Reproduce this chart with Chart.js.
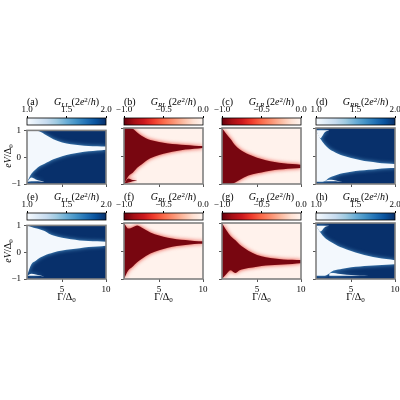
<!DOCTYPE html>
<html><head><meta charset="utf-8">
<script src="https://cdn.jsdelivr.net/npm/chart.js@4/dist/chart.umd.min.js"></script>
<style>
html,body{margin:0;padding:0;background:#fff;}
#wrap{position:relative;width:400px;height:400px;overflow:hidden;font-family:'Liberation Serif',serif;}
#wrap canvas{position:absolute;}
.t{position:absolute;white-space:nowrap;font-size:10px;line-height:10px;color:#000;}
.t sub{font-size:70%;vertical-align:-0.3em;line-height:0;}
.t sup{font-size:70%;vertical-align:0.45em;line-height:0;}
.rot{transform:translate(-50%,-50%) rotate(-90deg);}
.ctr{transform:translate(-50%,-50%);}
</style></head><body><div id="wrap"></div>
<script>
// ---------------- data ----------------
const gamma = [1, 1.5, 2, 2.5, 3, 3.5, 4, 5, 6, 7, 8, 9, 10];

// (a) G_LL : light region (value ~1) inside a dark background (~2)
const aLo = [-0.93, -0.62, -0.45, -0.32, -0.24, -0.16, -0.08, 0.04, 0.12, 0.18, 0.22, 0.25, 0.28];
const aHi = [1, 1, 1, 0.95, 0.86, 0.76, 0.67, 0.55, 0.48, 0.45, 0.42, 0.41, 0.40];
const aBandGamma = [1, 1.5, 2, 2.5, 3];
const aBandLo = [-0.93, -0.9, -0.9, -0.91, -0.92];
const aBandHi = [-0.93, -0.76, -0.83, -0.88, -0.92];

// (b) G_RL : dark region (~-1) inside a light background (~0)
const bLo = [-1, -0.72, -0.6, -0.42, -0.3, -0.18, -0.08, 0.04, 0.12, 0.18, 0.23, 0.26, 0.29];
const bHi = [1, 1, 0.97, 0.84, 0.72, 0.63, 0.57, 0.50, 0.45, 0.42, 0.39, 0.37, 0.36];
const bBandGamma = [1, 1.5, 2, 2.5];
const bBandLo = [-1, -0.95, -0.9, -0.88];
const bBandHi = [-1, -0.8, -0.86, -0.88];

// (c) G_LR
const cLo = [-1, -1, -1, -0.95, -0.86, -0.77, -0.7, -0.62, -0.55, -0.5, -0.47, -0.45, -0.43];
const cHi = [1, 0.79, 0.6, 0.38, 0.24, 0.14, 0.06, -0.06, -0.15, -0.21, -0.26, -0.29, -0.31];

// (d) G_RR
const dLo = [-0.92, -0.92, -0.9, -0.78, -0.71, -0.66, -0.62, -0.56, -0.52, -0.49, -0.46, -0.44, -0.43];
const dHi = [0.92, 0.62, 0.4, 0.25, 0.16, 0.08, 0.02, -0.07, -0.14, -0.2, -0.24, -0.27, -0.29];
const dWedgeGamma = [1, 1.5, 2, 2.5];
const dWedgeLo = [0.92, 0.64, 0.85, 0.92];
const dWedgeHi = [0.92, 0.92, 0.92, 0.92];
const dBandGamma = [2, 2.5, 3, 3.5, 4];
const dBandLo = [-0.9, -0.9, -0.9, -0.91, -0.92];
const dBandHi = [-0.9, -0.85, -0.86, -0.89, -0.92];

// (e) G_LL
const eLo = [-0.88, -0.45, -0.32, -0.2, -0.12, -0.06, -0.01, 0.06, 0.11, 0.15, 0.19, 0.21, 0.24];
const eHi = [1, 0.94, 0.89, 0.85, 0.79, 0.69, 0.62, 0.54, 0.48, 0.44, 0.42, 0.41, 0.39];
const eBandGamma = [1, 1.5, 2, 2.5, 3];
const eBandLo = [-0.88, -0.88, -0.88, -0.89, -0.9];
const eBandHi = [-0.88, -0.8, -0.83, -0.87, -0.9];

// (f) G_RL
const fLo = [-1, -0.69, -0.55, -0.4, -0.29, -0.18, -0.09, 0.03, 0.12, 0.18, 0.21, 0.25, 0.26];
const fHi = [1, 0.8, 0.85, 0.91, 0.84, 0.75, 0.66, 0.55, 0.47, 0.42, 0.39, 0.36, 0.35];

// (g) G_LR
const gLo = [-1, -0.82, -0.69, -0.79, -0.69, -0.64, -0.61, -0.56, -0.52, -0.5, -0.48, -0.46, -0.44];
const gHi = [1, 0.74, 0.53, 0.39, 0.23, 0.12, 0.01, -0.14, -0.22, -0.27, -0.3, -0.31, -0.32];

// (h) G_RR
const hLo = [-0.88, -0.88, -0.88, -0.8, -0.7, -0.66, -0.63, -0.58, -0.55, -0.53, -0.51, -0.49, -0.47];
const hHi = [0.9, 0.66, 0.47, 0.36, 0.27, 0.18, 0.12, 0.0, -0.1, -0.18, -0.24, -0.29, -0.33];
const hWedgeGamma = [1, 1.5, 2, 2.5];
const hWedgeLo = [0.9, 0.7, 0.85, 0.9];
const hWedgeHi = [0.9, 0.9, 0.9, 0.9];
const hBandGamma = [2.5, 3, 3.5, 4, 5, 6, 7];
const hBandLo = [-0.88, -0.88, -0.88, -0.88, -0.88, -0.88, -0.88];
const hBandHi = [-0.8, -0.79, -0.81, -0.83, -0.86, -0.875, -0.88];

// axes / colour bars
const gammaRange = [1, 10];
const gammaTicks = [5, 10];
const energyRange = [-1, 1];
const energyTicks = [-1, 0, 1];
const blueRange = [1.0, 2.0];
const blueTicks = [1.0, 1.5, 2.0];
const redRange = [-1.0, 0.0];
const redTicks = [-1.0, -0.5, 0.0];
const panelTags = ['(a)', '(b)', '(c)', '(d)', '(e)', '(f)', '(g)', '(h)'];
const panelNames = ['LL', 'RL', 'LR', 'RR', 'LL', 'RL', 'LR', 'RR'];

// ---------------- styles ----------------
const bluesStops = ['#f7fbff','#deebf7','#c6dbef','#9ecae1','#6baed6','#4292c6','#2171b5','#08519c','#08306b'];
const redsStops = ['#67000d','#a50f15','#cb181d','#ef3b2c','#fb6a4a','#fc9272','#fcbba1','#fee0d2','#fff5f0'];
const blueStyle = {bg:'#08306b', feat:'#f3f8fd', halo:'#5aa2d3', stops:bluesStops, range:blueRange, ticks:blueTicks};
const redStyle = {bg:'#fff2ec', feat:'#780610', halo:'#e5392d', stops:redsStops, range:redRange, ticks:redTicks};

const panels = [
  {style:blueStyle, bands:[[gamma,aLo,aHi],[aBandGamma,aBandLo,aBandHi]]},
  {style:redStyle,  bands:[[gamma,bLo,bHi],[bBandGamma,bBandLo,bBandHi]]},
  {style:redStyle,  bands:[[gamma,cLo,cHi]]},
  {style:blueStyle, bands:[[gamma,dLo,dHi],[dWedgeGamma,dWedgeLo,dWedgeHi],[dBandGamma,dBandLo,dBandHi]]},
  {style:blueStyle, bands:[[gamma,eLo,eHi],[eBandGamma,eBandLo,eBandHi]]},
  {style:redStyle,  bands:[[gamma,fLo,fHi]]},
  {style:redStyle,  bands:[[gamma,gLo,gHi]]},
  {style:blueStyle, bands:[[gamma,hLo,hHi],[hWedgeGamma,hWedgeLo,hWedgeHi],[hBandGamma,hBandLo,hBandHi]]}
];

// layout
const colX = [27, 124, 222, 316];
const W = 79;
const rowY = [128, 223];
const H = 56;
const cbY = [118, 213];
const cbH = 7;
const FONT = {family:"'Liberation Serif', serif", size:9};

Chart.defaults.font.family = FONT.family;
Chart.defaults.font.size = FONT.size;
Chart.defaults.color = '#000';

const wrap = document.getElementById('wrap');
function fmt(v, dec){ const s = Math.abs(v).toFixed(dec); return (v < 0 ? '\u2212' : '') + s; }
function addCanvas(l, t, w, h){
  const c = document.createElement('canvas');
  c.width = w; c.height = h;
  c.style.left = l + 'px'; c.style.top = t + 'px';
  c.style.width = w + 'px'; c.style.height = h + 'px';
  wrap.appendChild(c);
  return c;
}
function addText(html, l, t, cls){
  const d = document.createElement('div');
  d.className = 't' + (cls ? ' ' + cls : '');
  d.innerHTML = html;
  d.style.left = l + 'px'; d.style.top = t + 'px';
  wrap.appendChild(d);
  return d;
}
function framePlugin(color, width){
  return {id:'frame', afterDraw(chart){
    const a = chart.chartArea, ctx = chart.ctx;
    ctx.save(); ctx.strokeStyle = color; ctx.lineWidth = width;
    ctx.strokeRect(a.left, a.top, a.right - a.left, a.bottom - a.top);
    ctx.restore();
  }};
}
function bgPlugin(color){
  return {id:'bgfill', beforeDraw(chart){
    const a = chart.chartArea, ctx = chart.ctx;
    ctx.save(); ctx.fillStyle = color;
    ctx.fillRect(a.left, a.top, a.right - a.left, a.bottom - a.top);
    ctx.restore();
  }};
}
// soft edges: the halo copies (drawn first) are blurred, the crisp fills are drawn on top
function softPlugin(firstHalo){
  return {id:'soft',
    beforeDatasetsDraw(chart){ chart.ctx.filter = 'blur(2px)'; },
    afterDatasetDraw(chart, args){ if(args.index === firstHalo) chart.ctx.filter = 'none'; },
    afterDatasetsDraw(chart){ chart.ctx.filter = 'none'; }
  };
}

function makeHeat(p, idx){
  const col = idx % 4, row = Math.floor(idx / 4);
  const x0 = colX[col], y0 = rowY[row];
  const L = 30, R = 8, T = 6, B = 22, YW = 26, XH = 20;
  const cv = addCanvas(x0 - L, y0 - T, W + L + R, H + T + B);
  const st = p.style;
  const crisp = [], halo = [];
  const common = {pointRadius:0, borderWidth:0, borderColor:'rgba(0,0,0,0)', cubicInterpolationMode:'monotone', clip:0};
  p.bands.forEach(([g, lo, hi]) => {
    crisp.push(Object.assign({data:g.map((x,i)=>({x:x, y:lo[i]})), fill:false}, common));
    crisp.push(Object.assign({data:g.map((x,i)=>({x:x, y:hi[i]})), fill:'-1', backgroundColor:st.feat}, common));
    halo.push(Object.assign({data:g.map((x,i)=>({x:x, y:lo[i]})), fill:false}, common));
    halo.push(Object.assign({data:g.map((x,i)=>({x:x, y:hi[i]})), fill:'-1', backgroundColor:st.halo}, common));
  });
  const datasets = crisp.concat(halo);
  new Chart(cv, {
    type:'line',
    data:{datasets},
    options:{
      responsive:false, animation:false, devicePixelRatio:1,
      layout:{padding:{left:L - YW, right:R, top:T, bottom:B - XH}},
      plugins:{legend:{display:false}, tooltip:{enabled:false}, filler:{drawTime:'beforeDatasetDraw'}},
      scales:{
        x:{type:'linear', min:gammaRange[0], max:gammaRange[1],
           afterBuildTicks:s=>{ s.ticks = gammaTicks.map(v=>({value:v})); },
           afterFit:s=>{ s.height = XH; },
           grid:{drawOnChartArea:false, drawTicks:true, tickLength:3, color:'#555'},
           border:{display:false},
           ticks:{display: row === 1, padding:2, maxRotation:0, autoSkip:false, color:'#000', font:FONT, callback:v=>fmt(v,0)}},
        y:{type:'linear', min:energyRange[0], max:energyRange[1],
           afterBuildTicks:s=>{ s.ticks = energyTicks.map(v=>({value:v})); },
           afterFit:s=>{ s.width = YW; },
           grid:{drawOnChartArea:false, drawTicks:true, tickLength:3, color:'#555'},
           border:{display:false},
           ticks:{display: col === 0, padding:3, color:'#000', font:FONT, callback:v=>fmt(v,0)}}
      }
    },
    plugins:[bgPlugin(st.bg), softPlugin(crisp.length), framePlugin('#808080', 1.6)]
  });
}

function makeCb(p, idx){
  const col = idx % 4, row = Math.floor(idx / 4);
  const x0 = colX[col], y0 = cbY[row];
  const L = 16, R = 16, T = 16, B = 2, XH = 14;
  const cv = addCanvas(x0 - L, y0 - T, W + L + R, cbH + T + B);
  const st = p.style;
  new Chart(cv, {
    type:'bar',
    data:{labels:[''], datasets:[{
      data:[[st.range[0], st.range[1]]],
      barPercentage:1, categoryPercentage:1, borderWidth:0,
      backgroundColor:(c)=>{
        const a = c.chart.chartArea;
        if(!a) return st.stops[0];
        const g = c.chart.ctx.createLinearGradient(a.left, 0, a.right, 0);
        st.stops.forEach((s,i)=>g.addColorStop(i/(st.stops.length-1), s));
        return g;
      }
    }]},
    options:{
      indexAxis:'y', responsive:false, animation:false, devicePixelRatio:1,
      layout:{padding:{left:L, right:R, top:T - XH, bottom:B}},
      plugins:{legend:{display:false}, tooltip:{enabled:false}},
      scales:{
        x:{type:'linear', position:'top', min:st.range[0], max:st.range[1],
           afterBuildTicks:s=>{ s.ticks = st.ticks.map(v=>({value:v})); },
           afterFit:s=>{ s.height = XH; },
           grid:{drawOnChartArea:false, drawTicks:true, tickLength:2, color:'#000'},
           border:{display:false},
           ticks:{padding:1, maxRotation:0, autoSkip:false, color:'#000', font:FONT, callback:v=>fmt(v,1)}},
        y:{display:false}
      }
    },
    plugins:[framePlugin('#000', 0.8)]
  });
}

panels.forEach((p, i) => { makeHeat(p, i); makeCb(p, i); });

// text labels
const titleY = [102, 197];
panels.forEach((p, i) => {
  const col = i % 4, row = Math.floor(i / 4);
  const x0 = colX[col];
  addText(panelTags[i], x0, titleY[row] - 5);
  addText('<i>G</i><sub><i>' + panelNames[i] + '</i></sub> (2<i>e</i><sup>2</sup>/<i>h</i>)', x0 + W/2 + 10, titleY[row], 'ctr');
});
rowY.forEach(y => addText('<i>eV</i>/\u0394<sub>0</sub>', 8, y + H/2, 'rot'));
colX.forEach(x => addText('\u0393/\u0394<sub>0</sub>', x + W/2, 297, 'ctr'));
</script>
</body></html>
